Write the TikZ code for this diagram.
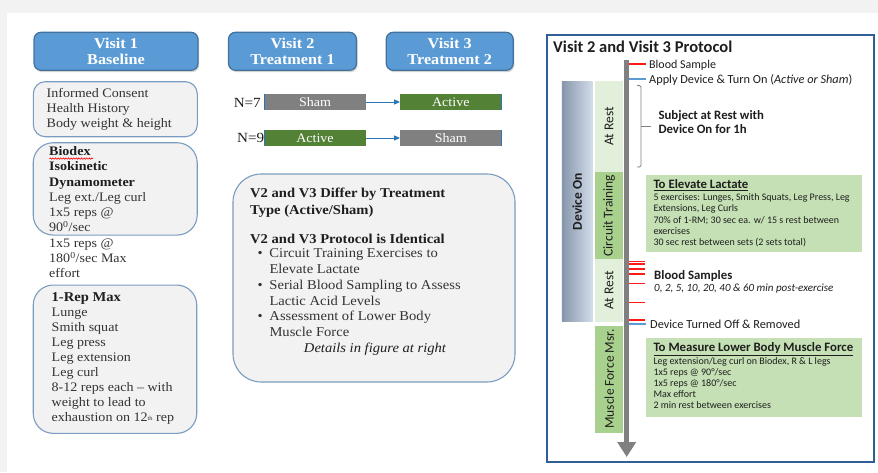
\documentclass[tikz,border=0pt]{standalone}
\usepackage{fontspec}
\setmainfont{Liberation Serif}[FakeStretch=1.08]
\newfontfamily\calfont{Carlito}
\usetikzlibrary{shadows,decorations.pathmorphing,arrows.meta}

\definecolor{pagegray}{HTML}{F2F2F2}
\definecolor{hdrblue}{HTML}{5B9BD5}
\definecolor{hdrdark}{HTML}{41719C}
\definecolor{boxgray}{HTML}{F2F2F2}
\definecolor{boxedge}{HTML}{7A9CC0}
\definecolor{shamgray}{HTML}{808080}
\definecolor{activegreen}{HTML}{538135}
\definecolor{arrowblue}{HTML}{2E75B6}
\definecolor{framebl}{HTML}{2F5F94}
\definecolor{restgreen}{HTML}{E2EFDA}
\definecolor{phasegreen}{HTML}{A9D18E}
\definecolor{notegreen}{HTML}{C5E0B4}
\definecolor{tickred}{HTML}{FF1A1A}
\definecolor{tickblue}{HTML}{5B9BD5}
\definecolor{axisgray}{HTML}{808080}
\definecolor{devdark}{HTML}{8796AC}
\definecolor{devlight}{HTML}{D3DDEA}
\definecolor{txtgray}{HTML}{333333}
\definecolor{txtdark}{HTML}{1E1E1E}

\tikzset{
  hdr/.style={draw=hdrdark, line width=1.2pt, fill=hdrblue, rounded corners=7pt,
    drop shadow={opacity=0.35, shadow xshift=1.2pt, shadow yshift=-1.8pt},
    minimum height=38pt, inner sep=0pt, text=white, align=center,
    font=\bfseries\fontsize{15}{16.7}\selectfont},
  gbox/.style={draw=boxedge, line width=1.1pt, fill=boxgray, inner sep=0pt},
  bodytext/.style={text=txtgray, font=\fontsize{13}{15}\selectfont, align=left,
    inner sep=0pt, anchor=north west},
  bar/.style={minimum width=101pt, minimum height=16pt, inner sep=0pt,
    text=white, font=\fontsize{13}{15}\selectfont},
  edgeline/.style={arrowblue, line width=0.9pt},
  swap/.style={arrowblue, line width=0.9pt, -{Triangle[length=6pt,width=5pt]}},
  phase/.style={minimum width=28.3pt, inner sep=0pt},
  phaselabel/.style={rotate=90, inner sep=0pt, text=txtdark,
    font=\calfont\fontsize{13.5}{15}\selectfont},
  note/.style={fill=notegreen, inner sep=0pt, minimum width=215.7pt},
  sm/.style={anchor=base west, inner sep=0pt, text=txtdark,
    font=\calfont\fontsize{10}{11}\selectfont},
  lbl/.style={anchor=base west, inner sep=0pt, text=txtdark,
    font=\calfont\fontsize{12.3}{14}\selectfont},
  lblb/.style={anchor=base west, inner sep=0pt, text=txtdark,
    font=\calfont\bfseries\fontsize{12.8}{14}\selectfont},
  redtick/.style={tickred, line width=1.9pt},
  bluetick/.style={tickblue, line width=1.9pt},
}

\begin{document}
\begin{tikzpicture}[x=1pt, y=-1pt]
\useasboundingbox (0,0) rectangle (878,472);
% page
\fill[pagegray] (0,0) rectangle (878,472);
\fill[white] (6.7,12.7) rectangle (878,472);

% ---------- visit headers ----------
\node[hdr, minimum width=164pt] (v1) at (116,51.3) {Visit 1\\Baseline};
\node[hdr, minimum width=128pt] (v2) at (292.5,51.3) {Visit 2\\Treatment 1};
\node[hdr, minimum width=127pt] (v3) at (449.7,51.3) {Visit 3\\Treatment 2};

% ---------- visit 1 boxes ----------
\node[gbox, rounded corners=12pt, minimum width=164pt, minimum height=55pt] (b1) at (115.3,109.2) {};
\node[bodytext] (t1) at (46.5,88.6) {Informed Consent\\Health History\\Body weight \& height};

\node[gbox, rounded corners=20pt, minimum width=164pt, minimum height=92.3pt] (b2) at (115.2,188.9) {};
\node[bodytext, font=\fontsize{13}{15.25}\selectfont] (t2) at (49,146.5)
  {\textbf{\color{txtdark}Biodex}\\\textbf{\color{txtdark}Isokinetic}\\\textbf{\color{txtdark}Dynamometer}\\Leg ext./Leg curl\\1x5 reps @\\90\textsuperscript{0}/sec\\1x5 reps @\\180\textsuperscript{0}/sec Max\\effort};
\draw[red, line width=0.6pt, decorate, decoration={snake, amplitude=0.7pt, segment length=2.6pt}]
  (49.5,158.6) -- (93,158.6);

\node[gbox, rounded corners=20pt, minimum width=163.5pt, minimum height=148.3pt] (b3) at (115,359.2) {};
\node[bodytext] (t3) at (51.5,292.4)
  {{\bfseries\color{txtdark}\fontsize{13.5}{15}\selectfont 1-Rep Max}\\Lunge\\Smith squat\\Leg press\\Leg extension\\Leg curl\\8-12 reps each -- with\\weight to lead to\\exhaustion on 12\raisebox{0.6pt}{\fontsize{6}{6}\selectfont th} rep};

% ---------- treatment order ----------
\node[bar, fill=shamgray] (s7) at (315,102) {Sham};
\node[bar, fill=activegreen] (a7) at (450.8,102) {Active};
\node[bar, fill=activegreen] (a9) at (315,138) {Active};
\node[bar, fill=shamgray] (s9) at (450.8,138) {Sham};
\draw[edgeline] (s7.north west) -- (s7.south west);
\draw[edgeline] (a7.north east) -- (a7.south east);
\draw[edgeline] (a9.north west) -- (a9.south west);
\draw[edgeline] (s9.north east) -- (s9.south east);
\draw[swap] (s7.east) -- (a7.west);
\draw[swap] (a9.east) -- (s9.west);
\node[anchor=base east, inner sep=0pt, text=txtdark, font=\fontsize{14}{15}\selectfont] (n7) at (261,107.3) {N=7};
\node[anchor=base east, inner sep=0pt, text=txtdark, font=\fontsize{14}{15}\selectfont] (n9) at (264.3,142.7) {N=9};

% ---------- summary box ----------
\node[gbox, rounded corners=28pt, minimum width=282pt, minimum height=208pt] (mid) at (374,278) {};
\node[bodytext, text=txtdark, font=\bfseries\fontsize{13.5}{17}\selectfont] (m1) at (250,188.2)
  {V2 and V3 Differ by Treatment\\Type (Active/Sham)};
\node[bodytext, text=txtdark, font=\bfseries\fontsize{13.5}{17}\selectfont] (m2) at (250,233.6)
  {V2 and V3 Protocol is Identical};
\node[bodytext, font=\fontsize{13.5}{15.9}\selectfont] (m3) at (257.5,248.2)
  {\makebox[11.8pt][l]{\textbullet}Circuit Training Exercises to\\
   \hspace*{11.8pt}Elevate Lactate\\
   \makebox[11.8pt][l]{\textbullet}Serial Blood Sampling to Assess\\
   \hspace*{11.8pt}Lactic Acid Levels\\
   \makebox[11.8pt][l]{\textbullet}Assessment of Lower Body\\
   \hspace*{11.8pt}Muscle Force};
\node[anchor=base, inner sep=0pt, text=txtdark, font=\itshape\fontsize{13.5}{15}\selectfont] (det) at (375,352.7)
  {Details in figure at right};

% ---------- protocol panel ----------
\node[draw=framebl, line width=1.8pt, fill=white, minimum width=327pt, minimum height=427pt, inner sep=0pt,
  drop shadow={opacity=0.18, shadow xshift=1.2pt, shadow yshift=-1.2pt}] (frame) at (710.5,248.5) {};
\node[anchor=base west, inner sep=0pt, text=txtdark, font=\calfont\bfseries\fontsize{16.5}{18}\selectfont] (ttl) at (553,52.5)
  {Visit 2 and Visit 3 Protocol};

% device-on column
\node[inner sep=0pt, minimum width=30.7pt, minimum height=240pt, left color=devdark, right color=devlight] (devon) at (577.3,201.7) {};
\node[rotate=90, inner sep=0pt, text=txtdark, font=\calfont\bfseries\fontsize{13.5}{15}\selectfont] (devlbl) at (577.3,201.7) {Device On};

% phase column
\node[phase, fill=restgreen, minimum height=90.7pt] (rest1) at (609.2,126.3) {};
\node[phase, fill=phasegreen, minimum height=87.6pt] (circ) at (609.2,215.5) {};
\node[phase, fill=restgreen, minimum height=62.2pt] (rest2) at (609.2,290.4) {};
\node[phase, fill=phasegreen, minimum height=107.2pt] (musc) at (609.2,379.1) {};
\node[phaselabel] (rest1l) at (rest1) {At Rest};
\node[phaselabel] (circl) at (circ) {Circuit Training};
\node[phaselabel] (rest2l) at (rest2) {At Rest};
\node[phaselabel] (muscl) at (musc) {Muscle Force Msr.};

% time axis
\coordinate (tltop) at (626.7,60);
\coordinate (tlbot) at (626.7,457);
\draw[axisgray, line width=5pt, -{Triangle[length=15pt,width=18pt]}] (tltop) -- (tlbot);

% event ticks
\draw[redtick] (629,64) -- (646,64);
\draw[bluetick] (629,79.3) -- (646,79.3);
\foreach \ty in {261.5,264.3,268.8,273.6,283.5,302.5,320}
  \draw[redtick] (629,\ty) -- (645,\ty);
\draw[bluetick] (629,324.4) -- (646,324.4);

\node[lbl, font=\calfont\fontsize{12}{14}\selectfont] (bs) at (649,68) {Blood Sample};
\node[lbl] (apply) at (649,83.5) {Apply Device \& Turn On (\textit{Active or Sham})};

% rest bracket
\draw[axisgray, line width=0.9pt, rounded corners=1.5pt] (637,85.5) -- (641,85.5) -- (641,167) -- (637,167);
\draw[axisgray, line width=0.9pt] (641,126) -- (651,126);
\node[lblb] (subj1) at (658.3,119.3) {Subject at Rest with};
\node[lblb] (subj2) at (658.3,133.5) {Device On for 1h};

% circuit training note
\node[note, minimum height=76.7pt] (lacbox) at (753.9,213.4) {};
\node[lblb] (lact) at (653.3,188.3) {\underline{To Elevate Lactate}};
\node[sm] (lac1) at (653.3,200) {5 exercises: Lunges, Smith Squats, Leg Press, Leg};
\node[sm] (lac2) at (653.3,211.5) {Extensions, Leg Curls};
\node[sm] (lac3) at (653.3,223) {70\% of 1-RM; 30 sec ea. w/ 15 s rest between};
\node[sm] (lac4) at (653.3,234.3) {exercises};
\node[sm] (lac5) at (653.3,245.5) {30 sec rest between sets (2 sets total)};

% blood samples
\node[lblb] (bsmp) at (654,279.3) {Blood Samples};
\node[lbl, font=\calfont\itshape\fontsize{11}{13}\selectfont] (bst) at (654,291.6) {0, 2, 5, 10, 20, 40 \& 60 min post-exercise};
\node[lbl] (off) at (650,328.5) {Device Turned Off \& Removed};

% muscle force note
\node[note, minimum height=79.6pt] (forbox) at (753.9,377.5) {};
\node[lblb] (fort) at (653.3,351.7) {\underline{To Measure Lower Body Muscle Force}};
\node[sm] (for1) at (653.3,364) {Leg extension/Leg curl on Biodex, R \& L legs};
\node[sm] (for2) at (653.3,375.2) {1x5 reps @ 90\textdegree/sec};
\node[sm] (for3) at (653.3,386.4) {1x5 reps @ 180\textdegree/sec};
\node[sm] (for4) at (653.3,397.6) {Max effort};
\node[sm] (for5) at (653.3,408.8) {2 min rest between exercises};
\end{tikzpicture}
\end{document}
